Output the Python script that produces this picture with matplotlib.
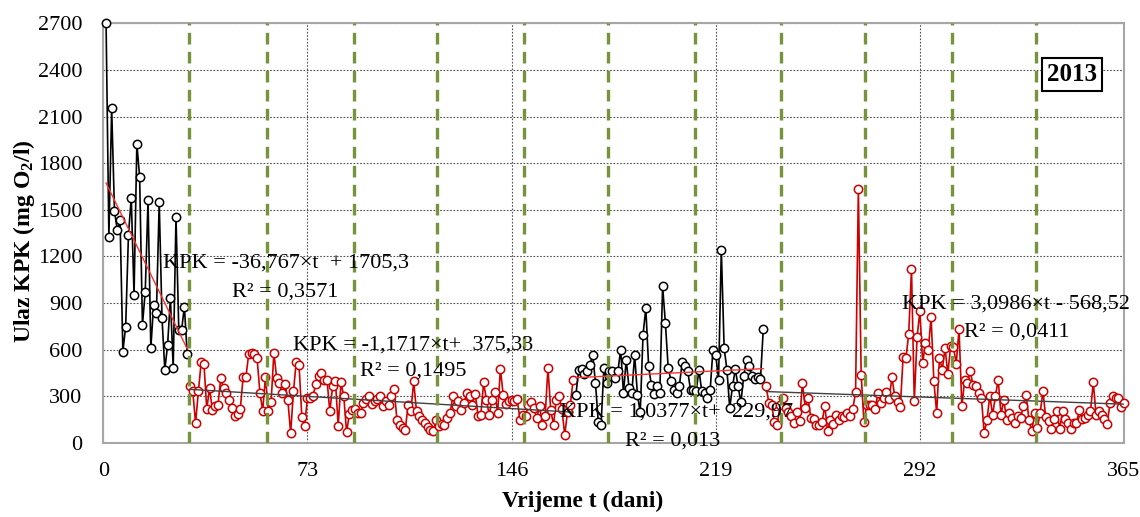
import numpy as np
import matplotlib
matplotlib.use("Agg")
import matplotlib.pyplot as plt

plt.rcParams['font.family'] = ['Liberation Serif', 'DejaVu Serif']
plt.rcParams['mathtext.fontset'] = 'custom'
plt.rcParams['mathtext.rm'] = 'Liberation Serif'
plt.rcParams['mathtext.bf'] = 'Liberation Serif:bold'
plt.rcParams['mathtext.default'] = 'bf'

# dnevne vrijednosti KPK, 2013
jan_crni = [2700, 1326, 2153, 1493, 1369, 1433, 587, 747, 1337, 1579,
            951, 1926, 1711, 758, 972, 1562, 610, 887, 835, 1549,
            803, 469, 630, 931, 482, 1455, 726, 726, 876, 572]          # dani 1-30

seg2_crveni = [366, 330, 127, 330, 517, 505, 216, 351, 212, 238,
               240, 416, 351, 319, 276, 223, 169, 186, 218, 422,
               422, 572, 576, 572, 544, 323, 206, 426, 206, 259,
               580, 416, 383, 319, 379, 272, 62, 330, 522, 501,
               165, 109, 287, 291, 302, 379, 431, 448, 405, 405,
               201, 362, 400, 109, 388, 298, 66, 186, 212, 218,
               191, 191, 255, 281, 302, 251, 270, 281, 302, 234,
               266, 240, 298, 348, 148, 117, 96, 84, 245, 204,
               395, 201, 169, 148, 127, 101, 79, 73, 144, 105,
               120, 116, 159, 191, 298, 234, 266, 212, 255, 320,
               298, 245, 316, 174, 180, 388, 277, 180, 277, 324,
               191, 474, 309, 251, 266, 277, 266, 281, 148, 180,
               170, 245, 260, 224, 159, 234, 117, 170, 481, 208,
               117, 277, 298, 216, 50, 199, 245, 405]                   # dani 31-168

seg3_crni = [309, 470, 474, 444, 459, 498, 567, 384, 131, 116,
             481, 384, 459, 459, 416, 459, 599, 320, 534, 352,
             320, 567, 309, 195, 695, 867, 491, 369, 315, 362,
             320, 1007, 771, 481, 399, 341, 320, 367, 517, 491,
             459, 337, 337, 330, 470, 330, 320, 288, 337, 599,
             567, 406, 1243, 610, 470, 223, 362, 474, 362, 260,
             427, 534, 491, 427, 410, 420, 410, 732]                     # dani 169-236

seg4_crveni = [363, 255, 245, 131, 116,
               245, 288, 223, 195, 170, 127, 200, 142, 384, 223, 288,
               159, 150, 116, 116, 131, 238, 73, 148, 122, 180, 148,
               170, 165, 191, 170, 217, 324, 1634, 438, 131, 245,
               240, 245, 217, 320, 256, 290, 324, 280, 423, 298,
               260, 230, 552, 545, 700, 1118, 266, 681, 846, 513,
               644, 599, 809, 395, 191, 545, 470, 610, 444, 625,
               616, 509, 732, 234, 401, 384, 459, 373, 367, 320,
               288, 62, 148, 303, 180, 298, 406, 180, 277, 148,
               191, 159, 127, 170, 160, 234, 309, 148, 73, 191,
               95, 191, 330, 165, 140, 88, 150, 202, 88,
               202, 150, 127, 88, 127, 130, 208, 150, 160, 180,
               202, 388, 180, 202, 180, 150, 122, 256, 298, 290,
               285, 230, 256]                                           # dani 237-365

dani_u_mjesecu = [31, 28, 31, 30, 31, 30, 31, 31, 30, 31, 30, 31]

jednadzbe = ["KPK = -36,767\u00d7t  + 1705,3", "KPK = -1,1717\u00d7t+  375,33",
             "KPK = 1,0377\u00d7t+  229,97", "KPK = 3,0986\u00d7t - 568,52"]
r2 = ["R\u00b2 = 0,3571", "R\u00b2 = 0,1495", "R\u00b2 = 0,013", "R\u00b2 = 0,0411"]

crvena = '#CC0000'
zelena = '#77933C'

segmenti = [jan_crni, seg2_crveni, seg3_crni, seg4_crveni]
boje = ['black', crvena, 'black', crvena]
boje_trenda = ['#FF3030', '#404040', '#FF3030', '#404040']

fig = plt.figure(figsize=(11.4, 5.17), dpi=100)
ax = fig.add_axes([0.0906, 0.1437, 0.8954, 0.811])

start = 1
for vals, c, ct in zip(segmenti, boje, boje_trenda):
    t = np.arange(start, start + len(vals))
    ax.plot(t, vals, '-o', color=c, lw=1.2, ms=6, mfc='white', mec=c, mew=1.1,
            zorder=3, clip_on=False)
    k, n = np.polyfit(t, vals, 1)
    ax.plot(t, k * t + n, color=ct, lw=1.0, zorder=4)
    start += len(vals)

granice = np.cumsum(dani_u_mjesecu)[:-1] - 0.5
for g in granice:
    ax.axvline(g, color=zelena, lw=2.4, ls=(0, (3.5, 2.2)), zorder=5)

# tekstovi trend linija
poz_jed = [(21.4, 1159), (68, 631), (163.3, 195), (285.5, 895)]
poz_r2 = [(46.1, 972), (91.8, 459), (186.6, 8), (307.8, 710)]
for s, p in zip(jednadzbe, poz_jed):
    ax.text(p[0], p[1], s, fontsize=16, va='center', ha='left', zorder=6)
for s, p in zip(r2, poz_r2):
    ax.text(p[0], p[1], s, fontsize=16, va='center', ha='left', zorder=6)

ax.text(0.949, 0.877, '2013', transform=ax.transAxes, fontsize=18, fontweight='bold',
        ha='center', va='center', zorder=7,
        bbox=dict(boxstyle='square,pad=0.2', fc='white', ec='black', lw=1.5))

ax.set_xlim(0, 365)
ax.set_ylim(0, 2700)
ax.set_xticks([0, 73, 146, 219, 292, 365])
ax.set_yticks(np.arange(0, 2701, 300))
ax.tick_params(length=0, labelsize=16)
ax.tick_params(axis='x', pad=14)
ax.tick_params(axis='y', pad=15)
ax.grid(True, color='#505050', ls=(0, (1.5, 1.5)), lw=0.8, zorder=0)
ax.set_axisbelow(True)
for sp in ax.spines.values():
    sp.set_color('#A6A6A6')
    sp.set_linewidth(1.5)

ax.set_xlabel('Vrijeme t (dani)', fontsize=17, fontweight='bold')
ax.xaxis.set_label_coords(0.47, -0.115)
ax.set_ylabel(r'Ulaz KPK (mg O$_\mathbf{2}$/l)', fontsize=17, fontweight='bold')
ax.yaxis.set_label_coords(-0.065, 0.48)

fig.savefig('out.png', dpi=100)
